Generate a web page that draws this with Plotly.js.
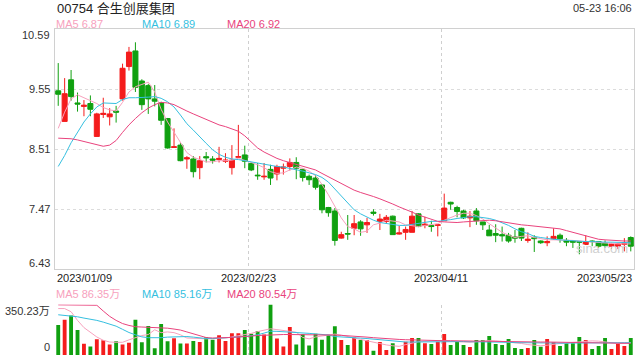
<!DOCTYPE html>
<html><head><meta charset="utf-8">
<script src="https://cdn.plot.ly/plotly-3.0.1.min.js"></script>
<style>html,body{margin:0;padding:0;background:#fff}#chart{width:640px;height:360px}</style>
</head><body><div id="chart"></div>
<script>
// ---- data ----
const stockTitle = '00754 合生创展集团';
const stamp = '05-23 16:06';
const xLabels = ['2023/01/09', '2023/02/23', '2023/04/11', '2023/05/23'];
const yTicks = [10.59, 9.55, 8.51, 7.47, 6.43];

const opens = [
  9.52,8.99,9.71,9.31,9.25,9.30,8.73,9.11,9.07,9.17,
  9.38,9.94,10.21,9.69,9.61,9.38,9.31,9.04,8.54,8.58,
  8.34,8.34,8.19,8.38,8.34,8.33,8.30,8.19,8.37,8.41,
  8.26,8.06,8.03,8.16,8.08,8.18,8.21,8.28,8.16,8.04,
  8.01,7.89,7.50,7.44,6.97,7.05,7.14,7.25,7.20,7.42,
  7.26,7.26,7.35,7.04,7.07,7.07,7.39,7.19,7.19,7.19,
  7.27,7.59,7.50,7.44,7.32,7.44,7.25,7.11,7.05,7.03,
  7.02,6.99,7.14,6.93,6.98,6.92,6.89,6.96,7.02,6.93,
  6.92,6.91,6.86,6.92,6.91,6.88,6.83,6.83,6.86,6.98];
const highs = [
  10.00,9.74,9.88,9.49,9.36,9.44,9.14,9.40,9.22,9.26,
  9.99,10.28,10.36,9.72,9.64,9.62,9.33,9.05,8.87,8.63,
  8.39,8.39,8.39,8.46,8.39,8.55,8.44,8.58,8.93,8.57,
  8.28,8.27,8.27,8.24,8.24,8.26,8.35,8.37,8.17,8.07,
  8.06,7.90,7.51,7.49,7.08,7.37,7.37,7.28,7.32,7.47,
  7.39,7.37,7.36,7.18,7.17,7.44,7.40,7.34,7.27,7.20,
  7.74,7.60,7.53,7.46,7.44,7.49,7.25,7.20,7.21,7.17,
  7.06,7.11,7.15,7.07,7.02,6.93,7.00,7.14,7.05,6.97,
  6.93,6.91,7.02,6.93,6.92,6.93,6.89,6.88,6.97,7.00];
const lows = [
  9.26,8.99,9.35,9.16,9.08,9.08,8.73,9.05,8.92,8.97,
  9.35,9.87,9.50,9.19,9.12,9.25,8.93,8.52,8.54,8.30,
  8.17,8.02,7.99,8.28,8.26,8.28,8.27,8.07,8.36,8.18,
  8.13,7.98,7.98,7.89,7.97,8.07,8.14,7.99,7.95,7.89,
  7.81,7.40,7.34,6.84,6.96,6.94,7.02,7.01,7.06,7.36,
  7.11,7.22,7.03,7.03,6.94,7.07,7.16,7.14,7.08,7.00,
  7.27,7.46,7.33,7.30,7.16,7.20,7.11,7.01,6.90,6.91,
  6.89,6.89,6.92,6.89,6.73,6.87,6.83,6.94,6.89,6.83,
  6.80,6.69,6.85,6.83,6.80,6.80,6.78,6.78,6.74,6.74];
const closes = [
  9.46,9.47,9.42,9.29,9.27,9.20,9.12,9.13,9.12,9.15,
  9.91,10.19,9.58,9.28,9.38,9.34,9.01,8.53,8.55,8.31,
  8.36,8.12,8.31,8.36,8.32,8.35,8.32,8.32,8.38,8.30,
  8.15,8.05,8.04,8.01,8.21,8.20,8.28,8.18,8.02,7.98,
  7.85,7.46,7.41,6.93,7.03,7.04,7.22,7.13,7.24,7.40,
  7.30,7.33,7.03,7.06,7.12,7.35,7.17,7.21,7.17,7.20,
  7.49,7.56,7.43,7.32,7.35,7.27,7.20,7.01,7.02,7.01,
  6.92,6.97,6.97,6.95,6.96,6.89,6.91,7.00,6.96,6.90,
  6.90,6.90,6.91,6.91,6.83,6.84,6.87,6.87,6.88,6.83];
const ma5 = [
  8.87,9.15,9.38,9.45,9.40,9.35,9.30,9.23,9.19,9.17,
  9.32,9.50,9.59,9.63,9.67,9.50,9.20,8.98,8.80,8.62,
  8.45,8.37,8.33,8.29,8.29,8.31,8.31,8.32,8.35,8.32,
  8.28,8.24,8.19,8.12,8.09,8.10,8.15,8.20,8.18,8.13,
  8.05,7.90,7.72,7.53,7.32,7.17,7.13,7.07,7.09,7.20,
  7.23,7.28,7.27,7.25,7.20,7.18,7.17,7.19,7.21,7.22,
  7.28,7.33,7.37,7.40,7.40,7.36,7.30,7.22,7.14,7.07,
  7.02,6.98,7.00,7.01,6.98,6.96,6.94,6.94,6.94,6.94,
  6.93,6.92,6.91,6.90,6.89,6.88,6.87,6.87,6.87,6.87];
const ma10 = [
  8.21,8.40,8.62,8.80,8.98,9.12,9.24,9.31,9.30,9.30,
  9.37,9.40,9.40,9.40,9.41,9.42,9.39,9.33,9.24,9.10,
  8.95,8.84,8.72,8.61,8.50,8.42,8.37,8.34,8.33,8.31,
  8.29,8.27,8.24,8.22,8.21,8.20,8.18,8.15,8.13,8.10,
  8.07,8.02,7.94,7.82,7.70,7.58,7.46,7.39,7.33,7.28,
  7.24,7.22,7.20,7.19,7.19,7.21,7.23,7.25,7.26,7.26,
  7.27,7.29,7.31,7.33,7.34,7.34,7.33,7.31,7.28,7.24,
  7.19,7.13,7.08,7.05,7.00,6.98,6.96,6.95,6.94,6.93,
  6.92,6.92,6.91,6.91,6.90,6.90,6.90,6.90,6.89,6.89];
const ma20 = [
  8.70,8.70,8.69,8.67,8.64,8.61,8.58,8.56,8.58,8.66,
  8.80,8.93,9.04,9.14,9.22,9.28,9.32,9.31,9.28,9.22,
  9.17,9.12,9.07,9.02,8.97,8.93,8.90,8.86,8.82,8.74,
  8.63,8.53,8.46,8.40,8.35,8.31,8.28,8.25,8.22,8.19,
  8.15,8.09,8.03,7.97,7.91,7.85,7.80,7.76,7.73,7.69,
  7.65,7.61,7.56,7.51,7.47,7.42,7.37,7.33,7.29,7.26,
  7.25,7.24,7.24,7.25,7.26,7.27,7.28,7.28,7.27,7.25,
  7.23,7.21,7.20,7.19,7.18,7.17,7.16,7.15,7.13,7.10,
  7.07,7.03,7.00,6.97,6.95,6.94,6.93,6.92,6.92,6.92];
// volume, in 万
const volumes = [
  208,244,274,173,78,59,109,102,73,95,
  73,85,244,88,201,47,215,95,116,80,
  80,97,90,123,106,137,97,151,151,173,
  147,166,142,350.23,114,59,194,73,144,66,
  147,106,140,200,104,69,122,104,104,30,
  90,35,81,41,92,118,118,81,76,92,
  145,69,94,69,55,104,104,131,76,69,
  111,48,41,48,104,58,111,88,62,81,
  81,124,104,41,62,118,41,76,62,118];
const volMa5 = [
  322,322,300,240,190,160,125,102,90,88,
  88,105,122,135,142,175,155,160,155,140,
  118,115,112,112,114,114,118,125,132,140,
  150,162,170,182,176,168,164,158,122,112,
  125,132,138,145,138,126,118,108,98,88,
  80,70,64,60,72,84,92,94,96,98,
  100,96,92,90,88,92,96,100,98,94,
  92,88,80,72,66,64,68,76,80,84,
  88,92,96,98,96,90,82,80,84,86.35];
const volMa10 = [
  279,276,272,265,256,250,240,228,215,200,
  178,156,140,126,120,118,120,124,126,128,
  128,124,118,114,114,116,118,120,124,128,
  134,140,152,165,164,162,160,157,154,150,
  146,142,139,128,124,122,118,117,114,110,
  105,100,96,92,90,90,91,92,92,93,
  94,94,93,93,92,92,92,91,90,89,
  88,86,85,84,83,82,81,81,81,82,
  83,84,85,85,85,85,85,85,85,85.16];
const volMa20 = [
  348,348,348,348,348,348,345,305,268,240,
  218,205,196,194,192,192,190,186,180,173,
  160,146,132,121,118,118,119,122,125,130,
  132,135,137,140,142,142,142,142,142,142,
  142,142,140,138,136,134,131,128,124,120,
  116,113,110,108,106,104,104,102,101,100,
  99,99,98,98,97,97,96,95,94,93,
  92,92,91,91,90,90,90,89,89,88,
  88,87,86,85,84,83,82,82,81,80.54];

// ---- styling ----
const RED = '#f41c1c', GREEN = '#10a010';
const C5 = '#f7a1bd', C10 = '#35bfdf', C20 = '#e9437d';
const FONT = '"Liberation Sans", Arial, "Noto Sans CJK SC", sans-serif';

const n = closes.length;
const xs = closes.map((_, i) => i);
const volColors = closes.map((c, i) => c >= opens[i] ? RED : GREEN);
const volMax = Math.max(...volumes);

const W = 640, H = 360, L = 55, R = 6, T = 29, B = 5;
const plotH = H - T - B, plotW = W - L - R;
const py = p => (H - B - p) / plotH;
const px = p => (p - L) / plotW;

const line = (y, color, xa, ya) => ({
  type: 'scatter', mode: 'lines', x: xs, y: y, xaxis: xa, yaxis: ya,
  line: {color: color, width: 1}, hoverinfo: 'skip'
});

const traces = [
  {type: 'candlestick', x: xs, open: opens, high: highs, low: lows, close: closes,
   xaxis: 'x', yaxis: 'y', whiskerwidth: 0,
   increasing: {line: {color: RED, width: 1}, fillcolor: RED},
   decreasing: {line: {color: GREEN, width: 1}, fillcolor: GREEN}},
  line(ma5, C5, 'x', 'y'), line(ma10, C10, 'x', 'y'), line(ma20, C20, 'x', 'y'),
  {type: 'bar', x: xs, y: volumes, xaxis: 'x2', yaxis: 'y2', width: 0.6,
   marker: {color: volColors, line: {width: 0}}, hoverinfo: 'skip'},
  line(volMa5, C5, 'x2', 'y2'), line(volMa10, C10, 'x2', 'y2'), line(volMa20, C20, 'x2', 'y2')
];

const txt = (text, x, y, o) => Object.assign({
  text: text, x: x, y: y, xref: 'paper', yref: 'paper', showarrow: false,
  xanchor: 'left', yanchor: 'middle', font: {family: FONT, size: 11, color: '#333'}
}, o || {});

const annotations = [
  txt(stockTitle, px(55), py(9), {font: {family: FONT, size: 13, color: '#222'}}),
  txt(stamp, 1, py(8), {xanchor: 'right'}),
  txt('MA5 ' + ma5[n - 1].toFixed(2), px(54), py(24), {font: {family: FONT, size: 11, color: C5}}),
  txt('MA10 ' + ma10[n - 1].toFixed(2), px(139.5), py(24), {font: {family: FONT, size: 11, color: C10}}),
  txt('MA20 ' + ma20[n - 1].toFixed(2), px(224.5), py(24), {font: {family: FONT, size: 11, color: C20}}),
  txt('MA5 ' + volMa5[n - 1].toFixed(2) + '万', px(54), py(294), {font: {family: FONT, size: 11, color: C5}}),
  txt('MA10 ' + volMa10[n - 1].toFixed(2) + '万', px(139.5), py(294), {font: {family: FONT, size: 11, color: C10}}),
  txt('MA20 ' + volMa20[n - 1].toFixed(2) + '万', px(224.5), py(294), {font: {family: FONT, size: 11, color: C20}}),
  txt('sina.com', px(602), py(248), {xanchor: 'center', font: {family: FONT, size: 13, color: '#cfcfcf'}})
];
yTicks.forEach((v, i) => {
  const first = i === 0, last = i === yTicks.length - 1;
  annotations.push(txt(v.toFixed(2), 0, v, {
    yref: 'y', xanchor: 'right', xshift: -3,
    yshift: first ? 2 : (last ? -2 : 0),
    yanchor: first ? 'top' : (last ? 'bottom' : 'middle')}));
});
annotations.push(txt(volMax.toFixed(2) + '万', 0, py(304.5), {xanchor: 'right', xshift: -3, yshift: 2, yanchor: 'top'}));
annotations.push(txt('0', 0, py(355), {xanchor: 'right', xshift: -3, yanchor: 'bottom'}));
xLabels.forEach((s, i) => {
  const f = i / (xLabels.length - 1);
  annotations.push(txt(s, f, py(278), {
    xanchor: i === 0 ? 'left' : (i === xLabels.length - 1 ? 'right' : 'center'), font: {family: FONT, size: 11, color: '#222'}}));
});

const xr = [-0.5, n - 0.5];
const gridX = [(n / 3) - 0.5, (2 * n / 3) - 0.5];
const layout = {
  width: W, height: H, margin: {l: L, r: R, t: T, b: B},
  paper_bgcolor: '#fff', plot_bgcolor: '#fff', showlegend: false,
  font: {family: FONT, size: 11, color: '#333'},
  boxgap: 0.22, boxgroupgap: 0,
  xaxis: {domain: [0, 1], range: xr, anchor: 'y', rangeslider: {visible: false},
    tickvals: gridX, showticklabels: false, ticks: '', showgrid: true,
    gridcolor: '#cfcfcf', griddash: 'dot', gridwidth: 1,
    showline: true, mirror: true, linecolor: '#d0d0d0', linewidth: 1, zeroline: false, fixedrange: true},
  yaxis: {domain: [py(269.3), 1], range: [yTicks[yTicks.length - 1], yTicks[0]], anchor: 'x',
    tickvals: yTicks.slice(1, -1), showticklabels: false, ticks: '',
    showgrid: true, gridcolor: '#dcdcdc', griddash: 'dot', gridwidth: 1,
    showline: true, mirror: true, linecolor: '#d0d0d0', linewidth: 1, zeroline: false, fixedrange: true},
  xaxis2: {domain: [0, 1], range: xr, anchor: 'y2',
    tickvals: gridX, showticklabels: false, ticks: '', showgrid: true,
    gridcolor: '#cfcfcf', griddash: 'dot', gridwidth: 1, showline: false, zeroline: false, fixedrange: true},
  yaxis2: {domain: [0, py(304.5)], range: [0, volMax], anchor: 'x2',
    tickvals: [volMax], showticklabels: false, ticks: '',
    showgrid: true, gridcolor: '#dcdcdc', griddash: 'dot', gridwidth: 1, showline: false, zeroline: false, fixedrange: true},
  annotations: annotations
};

Plotly.newPlot('chart', traces, layout, {displayModeBar: false, staticPlot: true});
</script>
</body></html>
